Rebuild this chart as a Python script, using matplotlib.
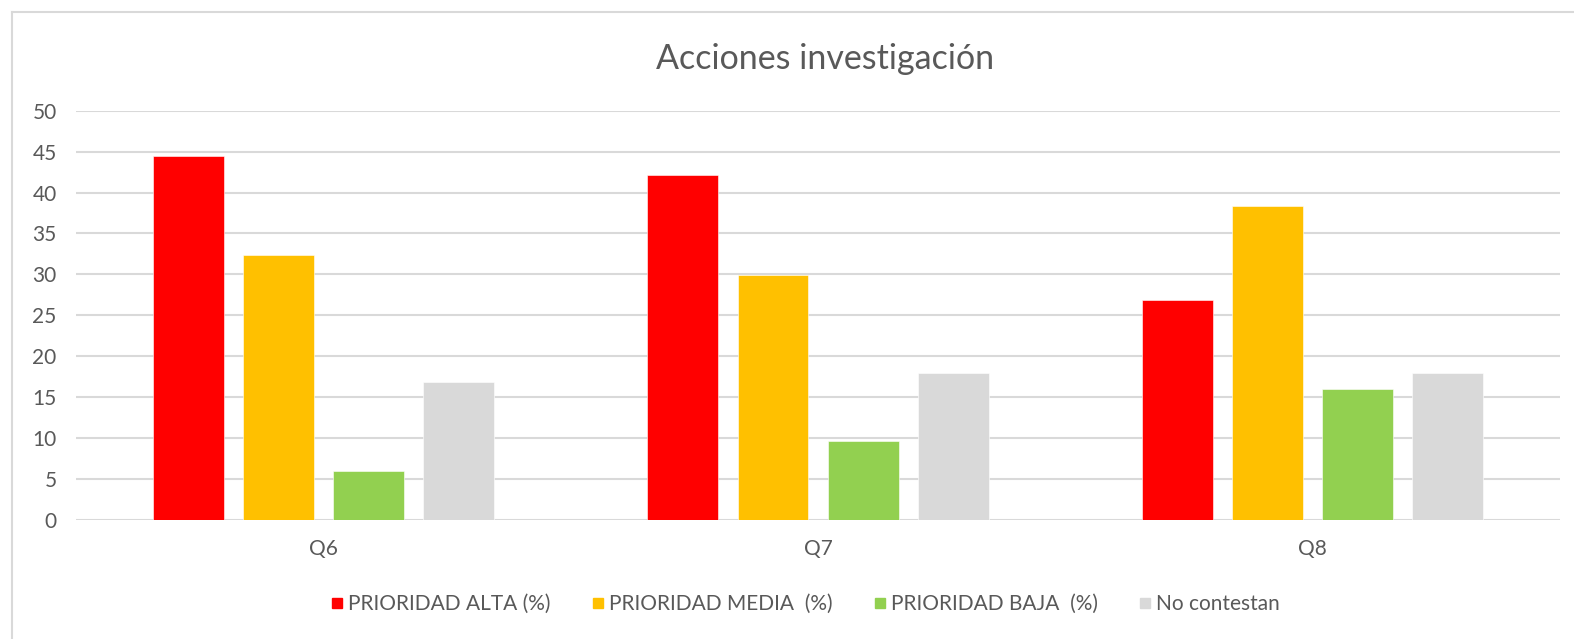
"""
Acciones investigación — grouped bars of priority shares per question.
Output: out.png
"""

import matplotlib
import matplotlib.pyplot as plt
import numpy as np
from matplotlib.lines import Line2D

matplotlib.use("Agg")

CATEGORIES = ["Q6", "Q7", "Q8"]
SERIES_NAMES = ["PRIORIDAD ALTA (%)", "PRIORIDAD MEDIA  (%)",
                "PRIORIDAD BAJA  (%)", "No contestan"]
ALTA = [44.5, 42.2, 26.9]
MEDIA = [32.4, 29.9, 38.3]
BAJA = [6.0, 9.6, 16.0]
NO_CONTESTAN = [16.9, 17.9, 18.0]
COLORS = ["#FF0000", "#FFC000", "#92D050", "#D9D9D9"]
Y_TICKS = list(range(0, 51, 5))

TEXT = "#595959"


def main():
    plt.rcParams["font.family"] = ["Lato", "DejaVu Sans"]
    fig = plt.figure(figsize=(15.74, 6.39), dpi=100)
    ax = fig.add_axes([0.0483, 0.1862, 0.9428, 0.6406])

    x = np.arange(len(CATEGORIES))
    width = 0.1435
    step = 0.182
    offsets = (np.arange(4) - 1.5) * step
    for vals, name, color, off in zip([ALTA, MEDIA, BAJA, NO_CONTESTAN],
                                      SERIES_NAMES, COLORS, offsets):
        ax.bar(x + off, vals, width=width, color=color, label=name,
               edgecolor="white", linewidth=0.4, zorder=3)

    ax.set_xlim(-0.5, len(CATEGORIES) - 0.5)
    ax.set_ylim(0, 50)
    ax.set_yticks(Y_TICKS)
    ax.set_xticks(x)
    ax.set_xticklabels(CATEGORIES)
    ax.grid(axis="y", color="#D9D9D9", linewidth=1.5, zorder=0)
    ax.set_axisbelow(True)
    for s in ax.spines.values():
        s.set_visible(False)
    ax.tick_params(axis="both", length=0, labelsize=15, colors=TEXT)
    ax.tick_params(axis="y", pad=14)
    ax.tick_params(axis="x", pad=14)

    fig.text(0.524, 0.908, "Acciones investigación", ha="center", va="center",
             fontsize=24.5, color=TEXT)

    handles = [Line2D([], [], marker="s", linestyle="none", markersize=7.5,
                      markerfacecolor=c, markeredgecolor=c) for c in COLORS]
    fig.legend(handles, SERIES_NAMES, loc="center", bbox_to_anchor=(0.512, 0.055),
               ncol=4, frameon=False, fontsize=15, labelcolor=TEXT,
               handlelength=0.5, handletextpad=0.3, columnspacing=2.0)

    # outer chart frame (left and top visible)
    fig.add_artist(Line2D([12 / 1574, 12 / 1574], [0, 1 - 12 / 639],
                          transform=fig.transFigure, color="#D9D9D9", linewidth=1.5))
    fig.add_artist(Line2D([12 / 1574, 1], [1 - 12 / 639, 1 - 12 / 639],
                          transform=fig.transFigure, color="#D9D9D9", linewidth=1.5))

    fig.savefig("out.png", dpi=100)
    plt.close(fig)


if __name__ == "__main__":
    main()
